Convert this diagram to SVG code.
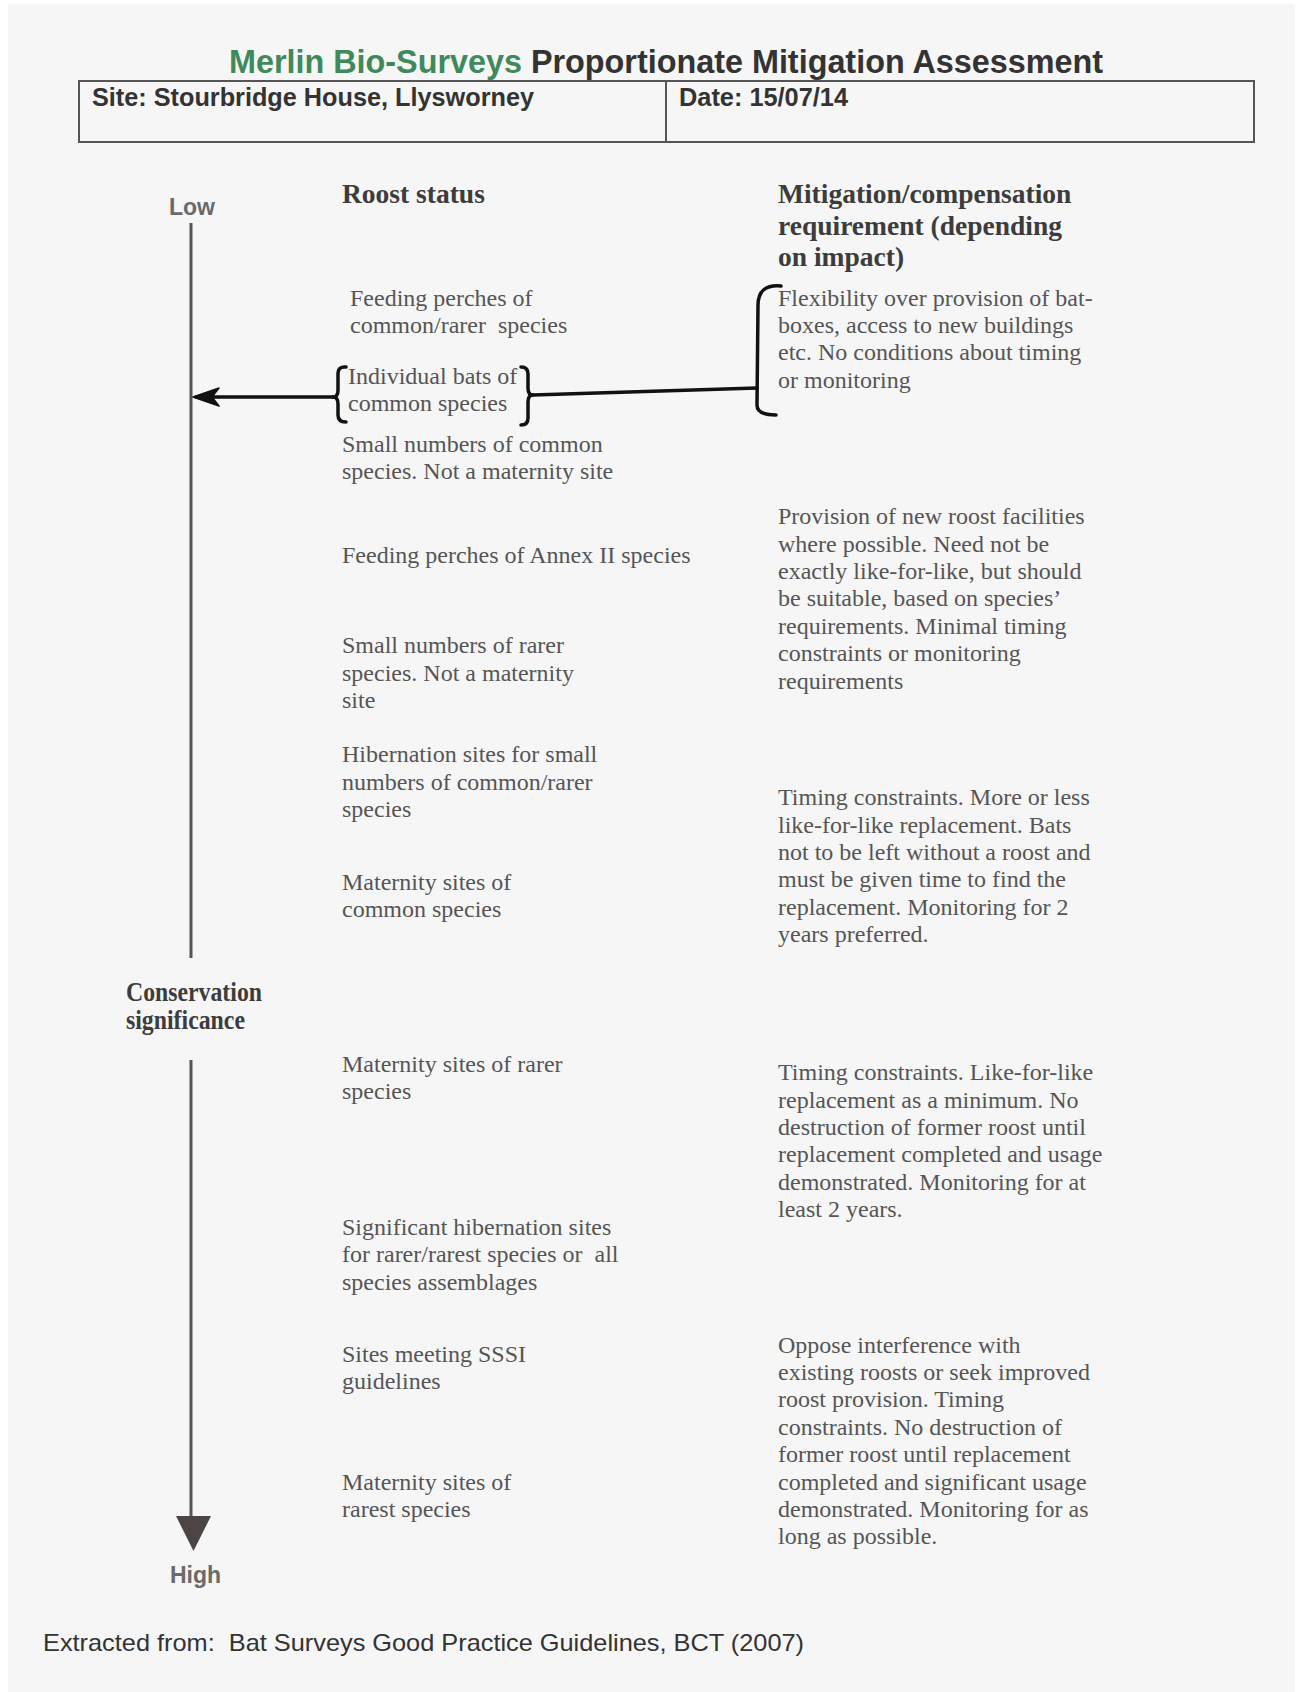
<svg xmlns="http://www.w3.org/2000/svg" width="1301" height="1692" viewBox="0 0 1301 1692">
<style>
.body{font-family:"Liberation Serif","Times New Roman",serif;font-size:24px;fill:#555}
.hdr{font-family:"Liberation Serif","Times New Roman",serif;font-size:27.5px;font-weight:bold;fill:#3c3c3c}
.sans{font-family:"Liberation Sans",Arial,sans-serif;font-weight:bold;fill:#333}
.axislbl{font-family:"Liberation Sans",Arial,sans-serif;font-weight:bold;font-size:23px;fill:#6a6a6a}
.hand{fill:none;stroke:#111;stroke-width:3.5;stroke-linecap:round;stroke-linejoin:round}
</style>
<rect width="1301" height="1692" fill="#ffffff"/>
<rect x="8" y="4" width="1287" height="1688" fill="#f6f6f6"/>

<g id="title">
<text class="sans" x="229" y="73" font-size="33" textLength="874" lengthAdjust="spacingAndGlyphs"><tspan fill="#3f8a5c">Merlin Bio-Surveys</tspan> Proportionate Mitigation Assessment</text>
</g>

<g id="header-box">
<rect x="79" y="81" width="1175" height="61" fill="none" stroke="#555" stroke-width="2"/>
<line x1="666" y1="81" x2="666" y2="142" stroke="#555" stroke-width="2"/>
<text class="sans" x="92" y="106" font-size="25" textLength="442" lengthAdjust="spacingAndGlyphs">Site: Stourbridge House, Llysworney</text>
<text class="sans" x="679" y="106" font-size="25" textLength="169" lengthAdjust="spacingAndGlyphs">Date: 15/07/14</text>
</g>

<g id="axis-labels">
<text class="axislbl" x="169" y="215">Low</text>
<text class="hdr" x="126" y="1001" font-size="21.5" fill="#5a5a5a" textLength="136" lengthAdjust="spacingAndGlyphs">Conservation</text>
<text class="hdr" x="126" y="1029" font-size="21.5" fill="#5a5a5a" textLength="119" lengthAdjust="spacingAndGlyphs">significance</text>
<text class="axislbl" x="170" y="1583">High</text>
</g>

<g id="col-headers">
<text class="hdr" x="342" y="203">Roost status</text>
<text class="hdr" x="778" y="203">Mitigation/compensation</text>
<text class="hdr" x="778" y="235">requirement (depending</text>
<text class="hdr" x="778" y="266">on impact)</text>
</g>

<g id="roost-feeding-common">
<text class="body" x="350" y="306">Feeding perches of</text>
<text class="body" x="350" y="333" xml:space="preserve">common/rarer  species</text>
</g>
<g id="roost-individual">
<text class="body" x="348" y="384">Individual bats of</text>
<text class="body" x="348" y="411">common species</text>
</g>
<g id="roost-small-common">
<text class="body" x="342" y="452">Small numbers of common</text>
<text class="body" x="342" y="479">species. Not a maternity site</text>
</g>
<g id="roost-feeding-annex">
<text class="body" x="342" y="563">Feeding perches of Annex II species</text>
</g>
<g id="roost-small-rarer">
<text class="body" x="342" y="653">Small numbers of rarer</text>
<text class="body" x="342" y="681">species. Not a maternity</text>
<text class="body" x="342" y="708">site</text>
</g>
<g id="roost-hibernation-small">
<text class="body" x="342" y="762">Hibernation sites for small</text>
<text class="body" x="342" y="790">numbers of common/rarer</text>
<text class="body" x="342" y="817">species</text>
</g>
<g id="roost-maternity-common">
<text class="body" x="342" y="890">Maternity sites of</text>
<text class="body" x="342" y="917">common species</text>
</g>
<g id="roost-maternity-rarer">
<text class="body" x="342" y="1072">Maternity sites of rarer</text>
<text class="body" x="342" y="1099">species</text>
</g>
<g id="roost-significant-hibernation">
<text class="body" x="342" y="1235">Significant hibernation sites</text>
<text class="body" x="342" y="1262" xml:space="preserve">for rarer/rarest species or  all</text>
<text class="body" x="342" y="1290">species assemblages</text>
</g>
<g id="roost-sssi">
<text class="body" x="342" y="1362">Sites meeting SSSI</text>
<text class="body" x="342" y="1389">guidelines</text>
</g>
<g id="roost-maternity-rarest">
<text class="body" x="342" y="1490">Maternity sites of</text>
<text class="body" x="342" y="1517">rarest species</text>
</g>

<g id="mit-flexibility">
<text class="body" x="778" y="306">Flexibility over provision of bat-</text>
<text class="body" x="778" y="333">boxes, access to new buildings</text>
<text class="body" x="778" y="360">etc. No conditions about timing</text>
<text class="body" x="778" y="388">or monitoring</text>
</g>
<g id="mit-provision">
<text class="body" x="778" y="524">Provision of new roost facilities</text>
<text class="body" x="778" y="552">where possible. Need not be</text>
<text class="body" x="778" y="579">exactly like-for-like, but should</text>
<text class="body" x="778" y="606">be suitable, based on species’</text>
<text class="body" x="778" y="634">requirements. Minimal timing</text>
<text class="body" x="778" y="661">constraints or monitoring</text>
<text class="body" x="778" y="689">requirements</text>
</g>
<g id="mit-timing-more-or-less">
<text class="body" x="778" y="805">Timing constraints. More or less</text>
<text class="body" x="778" y="833">like-for-like replacement. Bats</text>
<text class="body" x="778" y="860">not to be left without a roost and</text>
<text class="body" x="778" y="887">must be given time to find the</text>
<text class="body" x="778" y="915">replacement. Monitoring for 2</text>
<text class="body" x="778" y="942">years preferred.</text>
</g>
<g id="mit-timing-like-for-like">
<text class="body" x="778" y="1080">Timing constraints. Like-for-like</text>
<text class="body" x="778" y="1108">replacement as a minimum. No</text>
<text class="body" x="778" y="1135">destruction of former roost until</text>
<text class="body" x="778" y="1162">replacement completed and usage</text>
<text class="body" x="778" y="1190">demonstrated. Monitoring for at</text>
<text class="body" x="778" y="1217">least 2 years.</text>
</g>
<g id="mit-oppose">
<text class="body" x="778" y="1353">Oppose interference with</text>
<text class="body" x="778" y="1380">existing roosts or seek improved</text>
<text class="body" x="778" y="1407">roost provision. Timing</text>
<text class="body" x="778" y="1435">constraints. No destruction of</text>
<text class="body" x="778" y="1462">former roost until replacement</text>
<text class="body" x="778" y="1490">completed and significant usage</text>
<text class="body" x="778" y="1517">demonstrated. Monitoring for as</text>
<text class="body" x="778" y="1544">long as possible.</text>
</g>

<g id="footer">
<text x="43" y="1651" font-family="Liberation Sans, Arial, sans-serif" font-size="24" fill="#333" textLength="761" lengthAdjust="spacingAndGlyphs" xml:space="preserve">Extracted from:  Bat Surveys Good Practice Guidelines, BCT (2007)</text>
</g>

<g id="connectors">
<line x1="191" y1="223" x2="191" y2="958" stroke="#555" stroke-width="3"/>
<line x1="191" y1="1060" x2="191" y2="1520" stroke="#555" stroke-width="3"/>
<polygon points="176,1516 211,1516 193.5,1551" fill="#4d4444"/>
<path class="hand" d="M346 367 Q338 366 338 374 L338 390 Q338 397 333 397 Q338 397 338 404 L338 415 Q338 422 346 422"/>
<path class="hand" d="M521 367 Q528 367 528 374 L528 388 Q528 395 533 395 Q528 395 528 402 L528 418 Q528 425 521 425"/>
<path class="hand" d="M781 286 Q758 284 758 305 L757 405 Q757 415 776 415"/>
<line class="hand" x1="533" y1="395" x2="757" y2="388"/>
<line class="hand" x1="333" y1="397" x2="196" y2="397"/>
<path d="M219 388 L193 397 L219 406 L212 397 Z" fill="#111" stroke="#111" stroke-width="1.5" stroke-linejoin="round"/>
</g>
</svg>
